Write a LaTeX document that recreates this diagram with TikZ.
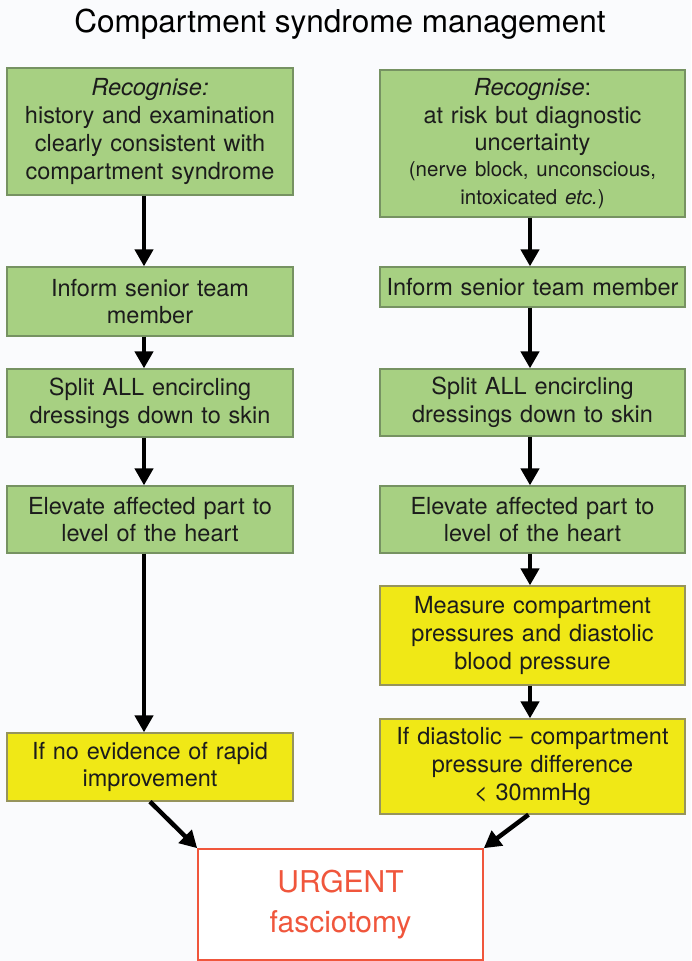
\documentclass[tikz,border=0pt]{standalone}
\usepackage{fontspec}
\setmainfont{TeX Gyre Heros}
\usetikzlibrary{arrows.meta}
\definecolor{bgpaper}{RGB}{250,251,253}
\definecolor{gfill}{RGB}{167,208,130}
\definecolor{gline}{RGB}{118,146,98}
\definecolor{yfill}{RGB}{240,232,22}
\definecolor{yline}{RGB}{150,148,92}
\definecolor{urgred}{RGB}{240,86,60}
\definecolor{inktext}{RGB}{28,28,28}
\tikzset{
  box/.style={draw, line width=1.3pt, inner sep=0pt, align=center, text=inktext,
    font=\fontsize{23.5}{27.7}\selectfont},
  lcol/.style={minimum width=286pt, text width=280pt},
  rcol/.style={minimum width=305pt, text width=300pt},
  greenbox/.style={box, fill=gfill, draw=gline},
  yellowbox/.style={box, fill=yfill, draw=yline},
  flow/.style={line width=4.5pt, -{Triangle[width=18pt,length=17pt]}},
}
\newcommand{\smalltxt}{\fontsize{20.5}{26}\selectfont}
\begin{document}
\begin{tikzpicture}[x=1pt, y=-1pt]
  \fill[bgpaper] (0,0) rectangle (691,961);
  \useasboundingbox (0,0) rectangle (691,961);

  % heading
  \node[anchor=base, font=\fontsize{31.5}{36}\selectfont, text=black] (title) at (340,32)
    {Compartment syndrome management};

  % left column
  \node[greenbox, lcol, minimum height=127pt] (l1) at (150,131.5)
    {\textit{Recognise:}\\history and examination\\clearly consistent with\\compartment syndrome};
  \node[greenbox, lcol, minimum height=69pt] (l2) at (150,301.5)
    {Inform senior team\\member};
  \node[greenbox, lcol, minimum height=68pt] (l3) at (150,403)
    {Split ALL encircling\\dressings down to skin};
  \node[greenbox, lcol, minimum height=67pt] (l4) at (150,519.5)
    {Elevate affected part to\\level of the heart};
  \node[yellowbox, lcol, minimum height=68pt] (l5) at (150,767)
    {If no evidence of rapid\\improvement};

  % right column
  \node[greenbox, rcol, minimum height=147pt] (r1) at (532.5,143.5)
    {\textit{Recognise}:\\at risk but diagnostic\\uncertainty\\{\smalltxt(nerve block, unconscious,\\intoxicated \textit{etc.})}};
  \node[greenbox, rcol, minimum height=40pt] (r2) at (532.5,287)
    {Inform senior team member};
  \node[greenbox, rcol, minimum height=67pt] (r3) at (532.5,402.5)
    {Split ALL encircling\\dressings down to skin};
  \node[greenbox, rcol, minimum height=67pt] (r4) at (532.5,519.5)
    {Elevate affected part to\\level of the heart};
  \node[yellowbox, rcol, minimum height=99pt] (r5) at (532.5,635.5)
    {Measure compartment\\pressures and diastolic\\blood pressure};
  \node[yellowbox, rcol, minimum height=95pt] (r6) at (532.5,766.5)
    {If diastolic -- compartment\\pressure difference\\< 30mmHg};

  % outcome
  \node[draw=urgred, line width=1.6pt, fill=white, minimum width=285pt, minimum height=111pt,
    align=center, text=urgred, font=\fontsize{30}{40}\selectfont] (urg) at (340.5,904.5)
    {URGENT\\fasciotomy};

  % connectors
  \draw[flow] ([xshift=-6pt]l1.south) -- ([xshift=-6pt]l2.north);
  \draw[flow] ([xshift=-6pt]l2.south) -- ([xshift=-6pt]l3.north);
  \draw[flow] ([xshift=-6pt]l3.south) -- ([xshift=-6pt]l4.north);
  \draw[flow] ([xshift=-6pt]l4.south) -- ([xshift=-6pt]l5.north);
  \draw[flow] ([xshift=-2.5pt]r1.south) -- ([xshift=-2.5pt]r2.north);
  \draw[flow] ([xshift=-2.5pt]r2.south) -- ([xshift=-2.5pt]r3.north);
  \draw[flow] ([xshift=-2.5pt]r3.south) -- ([xshift=-2.5pt]r4.north);
  \draw[flow] ([xshift=-2.5pt]r4.south) -- ([xshift=-2.5pt]r5.north);
  \draw[flow] ([xshift=-2.5pt]r5.south) -- ([xshift=-2.5pt]r6.north);
  \draw[flow] (l5.south) -- (urg.north west);
  \draw[flow] ([xshift=-4pt]r6.south) -- (urg.north east);
\end{tikzpicture}
\end{document}
